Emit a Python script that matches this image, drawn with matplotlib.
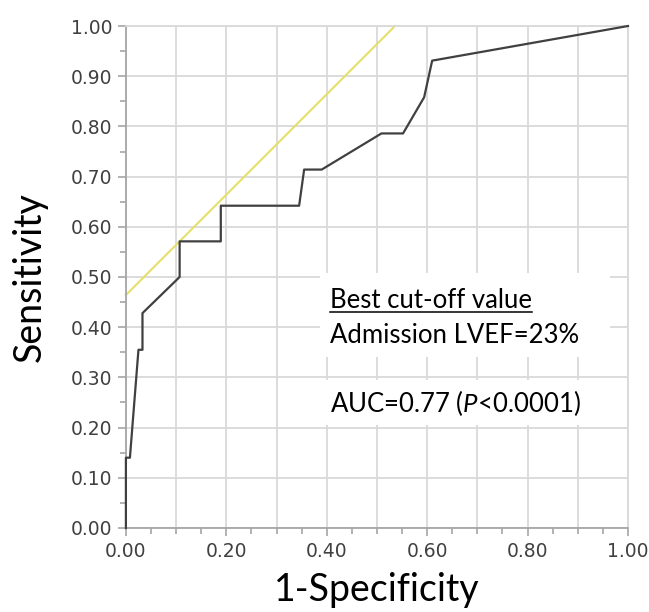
"""ROC curve for admission LVEF."""

import matplotlib
matplotlib.use("Agg")
import matplotlib.pyplot as plt
from matplotlib.patches import Rectangle
from matplotlib.ticker import MultipleLocator

plt.rcParams["font.family"] = ["Lato", "DejaVu Sans"]
plt.rcParams["mathtext.fontset"] = "custom"
plt.rcParams["mathtext.rm"] = "Lato"
plt.rcParams["mathtext.it"] = "Lato:italic"

# ROC curve (1-specificity, sensitivity)
fpr = [0.0, 0.0, 0.008, 0.025, 0.033, 0.033, 0.107, 0.107, 0.189, 0.189,
       0.345, 0.355, 0.390, 0.509, 0.552, 0.594, 0.610, 1.0]
tpr = [0.0, 0.14, 0.14, 0.355, 0.355, 0.428, 0.50, 0.571, 0.571, 0.642,
       0.642, 0.714, 0.714, 0.786, 0.786, 0.858, 0.931, 1.0]

# 45-degree tangent line through the best cut-off
tangent_x = [0.0, 0.536]
tangent_y = [0.464, 1.0]

CUTOFF_TITLE = "Best cut-off value"
CUTOFF_TEXT = "Admission LVEF=23%"
AUC_TEXT = r"AUC=0.77 ($\mathit{P}$<0.0001)"

GRID_COLOR = "#d9d9d9"
SPINE_COLOR = "#a6a6a6"
TICK_TEXT_COLOR = "#404040"
NOTE_SIZE = 18.5

figure = plt.figure(figsize=(6.49, 6.12), dpi=100)
ax = figure.add_axes([0.194, 0.1373, 0.7736, 0.8202])

ax.set_xlim(0, 1)
ax.set_ylim(0, 1)
ax.xaxis.set_major_locator(MultipleLocator(0.2))
ax.xaxis.set_minor_locator(MultipleLocator(0.05))
ax.yaxis.set_major_locator(MultipleLocator(0.1))
ax.yaxis.set_minor_locator(MultipleLocator(0.05))
ax.xaxis.set_major_formatter(lambda v, pos: f"{v:.2f}")
ax.yaxis.set_major_formatter(lambda v, pos: f"{v:.2f}")

# grid every 0.1 on both axes
for v in [i / 10 for i in range(11)]:
    ax.axvline(v, color=GRID_COLOR, linewidth=1.3, zorder=0)
    ax.axhline(v, color=GRID_COLOR, linewidth=1.3, zorder=0)

for side in ["left", "bottom"]:
    ax.spines[side].set_color(SPINE_COLOR)
    ax.spines[side].set_linewidth(1.3)
for side in ["top", "right"]:
    ax.spines[side].set_color(GRID_COLOR)
    ax.spines[side].set_linewidth(1.3)

ax.tick_params(which="major", length=6, width=1.2, color=SPINE_COLOR,
               labelsize=13.5, labelcolor=TICK_TEXT_COLOR, pad=4)
ax.tick_params(which="minor", length=4, width=1.2, color=SPINE_COLOR)
for label in ax.get_xticklabels() + ax.get_yticklabels():
    label.set_family("DejaVu Sans")

# white boxes behind the annotation text hide the grid
ax.add_patch(Rectangle((0.386, 0.341), 0.578, 0.167, facecolor="white",
                       edgecolor="none", zorder=1))
ax.add_patch(Rectangle((0.386, 0.205), 0.578, 0.090, facecolor="white",
                       edgecolor="none", zorder=1))

ax.plot(tangent_x, tangent_y, color="#e6df6a", linewidth=1.5, zorder=2,
        clip_on=False)
ax.plot(fpr, tpr, color="#404040", linewidth=1.6, zorder=3, clip_on=False)

title = ax.text(0.406, 0.438, CUTOFF_TITLE, fontsize=NOTE_SIZE,
                va="baseline", zorder=4)
ax.text(0.406, 0.369, CUTOFF_TEXT, fontsize=NOTE_SIZE, va="baseline",
        zorder=4)
ax.text(0.406, 0.231, AUC_TEXT, fontsize=NOTE_SIZE, va="baseline", zorder=4)

# underline the first line
figure.canvas.draw()
box = title.get_window_extent().transformed(ax.transData.inverted())
ax.plot([box.x0, box.x1], [0.431, 0.431], color="black", linewidth=1.1,
        zorder=4)

ax.set_xlabel("1-Specificity", fontsize=27, labelpad=8)
ax.set_ylabel("Sensitivity", fontsize=27, labelpad=16)

figure.savefig("out.png", dpi=100)
